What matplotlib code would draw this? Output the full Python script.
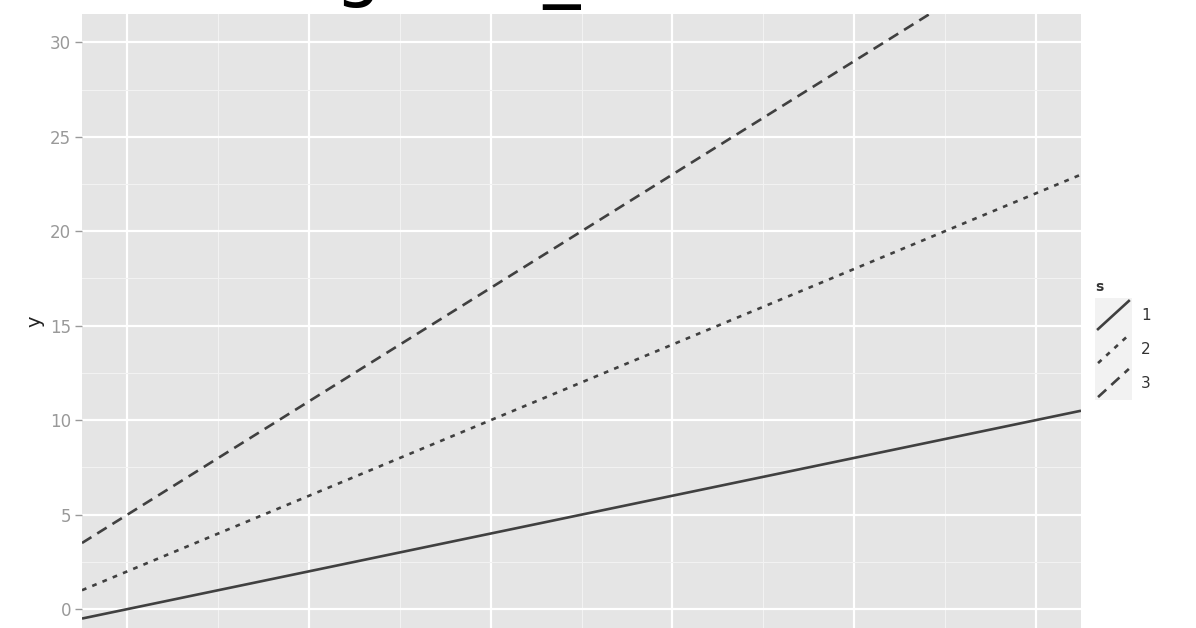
import matplotlib
matplotlib.use("Agg")
import numpy as np
import matplotlib.pyplot as plt
from matplotlib.legend_handler import HandlerLine2D
from matplotlib.lines import Line2D
from matplotlib.patches import Rectangle

# data: one abline per group s
groups = ["1", "2", "3"]
intercepts = [0, 2, 5]
slopes = [2, 4, 6]
styles = ["-", (0, (1.8, 2.4)), (0, (4.2, 2.6))]

x_range = [-0.25, 5.25]
y_ticks = [0, 5, 10, 15, 20, 25, 30]

LINE_COL = "#404040"
LINE_W = 1.9
LAB_SPACE = 0.55
LEG_FS = 11


class DiagHandler(HandlerLine2D):
    # ggplot style legend key: grey box with a diagonal line
    def create_artists(self, legend, orig_handle, xdescent, ydescent,
                       width, height, fontsize, trans):
        gap = LAB_SPACE * fontsize
        box = Rectangle((-xdescent, -ydescent - gap / 2), width, height + gap,
                        facecolor="#F2F2F2", edgecolor="none", transform=trans)
        line = Line2D([-xdescent + 0.08 * width, -xdescent + 0.92 * width],
                      [-ydescent - 0.05 * height, -ydescent + 1.05 * height],
                      color=LINE_COL, lw=LINE_W,
                      linestyle=orig_handle.get_linestyle(),
                      dash_capstyle="butt")
        dashes = orig_handle._unscaled_dash_pattern[1]
        if dashes:
            line.set_dashes(dashes)
        line.set_transform(trans)
        return [box, line]


fig = plt.figure(figsize=(11.96, 6.28), dpi=100)
ax = fig.add_axes([82 / 1196, 0.0, (1081 - 82) / 1196, (628 - 14) / 628])
ax.set_facecolor("#E5E5E5")

xs = np.array(x_range)
for g, a, b, ls in zip(groups, intercepts, slopes, styles):
    ax.plot(xs, a + b * xs, color=LINE_COL, lw=LINE_W, linestyle=ls, label=g,
            solid_capstyle="butt", dash_capstyle="butt")

ax.set_xlim(x_range)
ax.set_ylim(-1.0, 31.5)
ax.set_yticks(y_ticks)
ax.set_yticks(np.arange(2.5, 31, 5), minor=True)
ax.set_xticks(np.arange(0, 6, 1))
ax.set_xticks(np.arange(0.5, 5.1, 1), minor=True)
ax.grid(which="major", color="white", lw=1.6)
ax.grid(which="minor", color="#F2F2F2", lw=0.8)
ax.set_axisbelow(True)
for sp in ax.spines.values():
    sp.set_visible(False)
ax.tick_params(axis="y", which="major", colors="#999999", labelsize=12,
               length=5, width=1, pad=3)
ax.tick_params(axis="y", which="minor", length=0)
ax.tick_params(axis="x", which="both", length=0, labelbottom=False)
ax.set_ylabel("y", fontsize=14, color="#222222", labelpad=4)

fig.text(0.4765, 1.012, "geom_abline", fontsize=53, ha="center", va="baseline",
         color="black")

leg = ax.legend(title="s", loc="upper left", bbox_to_anchor=(1.008, 0.577),
                frameon=False, handlelength=2.4, handleheight=2.2,
                handletextpad=0.6, labelspacing=LAB_SPACE, fontsize=LEG_FS,
                title_fontsize=10, borderaxespad=0,
                handler_map={Line2D: DiagHandler()})
leg.get_title().set_fontweight("bold")
leg.get_title().set_color("#333333")
leg._legend_box.align = "left"
for t in leg.get_texts():
    t.set_color("#333333")

fig.savefig("out.png", dpi=100)
